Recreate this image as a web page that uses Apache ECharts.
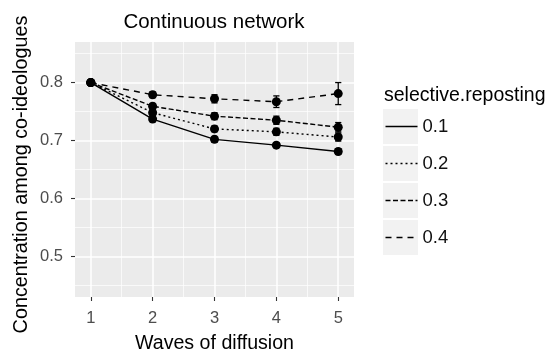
<!DOCTYPE html>
<html>
<head>
<meta charset="utf-8">
<script src="https://cdn.jsdelivr.net/npm/echarts@6/dist/echarts.min.js"></script>
<style>
  html, body { margin: 0; padding: 0; background: #fff; }
  #chart { width: 548px; height: 353px; }
</style>
</head>
<body>
<div id="chart"></div>
<script>
// waves of diffusion (x)
const waves = [1, 2, 3, 4, 5]
const groups = ['0.1', '0.2', '0.3', '0.4']

// mean concentration per selective.reposting level
const conc01 = [0.800, 0.737, 0.702, 0.692, 0.681]
const conc02 = [0.800, 0.748, 0.720, 0.715, 0.706]
const conc03 = [0.800, 0.759, 0.742, 0.735, 0.723]
const conc04 = [0.800, 0.779, 0.772, 0.767, 0.781]

// half-width of error bars
const err01 = [0.002, 0.004, 0.005, 0.004, 0.005]
const err02 = [0.002, 0.005, 0.005, 0.006, 0.007]
const err03 = [0.002, 0.005, 0.006, 0.007, 0.008]
const err04 = [0.002, 0.005, 0.007, 0.010, 0.019]

const xTicks = [1, 2, 3, 4, 5]
const xMinor = [1.5, 2.5, 3.5, 4.5]
const yTicks = [0.5, 0.6, 0.7, 0.8]
const yMinor = [0.45, 0.55, 0.65, 0.75, 0.85]

const means = [conc01, conc02, conc03, conc04]
const errs = [err01, err02, err03, err04]
const dashes = ['solid', [2, 3], [5, 2.5], [6, 5]]

const FONT = 'Liberation Sans, Arial, sans-serif'
const capWidth = 0.1

const chart = echarts.init(document.getElementById('chart'), null, { renderer: 'canvas' })

const lineSeries = groups.map((g, k) => ({
  name: g,
  type: 'line',
  symbol: 'none',
  data: waves.map((w, i) => [w, means[k][i]]),
  lineStyle: { color: '#000', width: 1.4, type: dashes[k] },
  itemStyle: { color: '#000', opacity: 0 },
  z: 3,
  silent: true,
}))

const pointData = []
const errData = []
means.forEach((arr, k) => {
  arr.forEach((v, i) => {
    pointData.push([waves[i], v])
    errData.push([waves[i], v - errs[k][i], v + errs[k][i]])
  })
})

function renderErrorBar(params, api) {
  const x = api.value(0)
  const top = api.coord([x, api.value(2)])
  const bot = api.coord([x, api.value(1)])
  const half = api.size([capWidth, 0])[0] / 2
  const style = { stroke: '#000', lineWidth: 1.3 }
  return {
    type: 'group',
    children: [
      { type: 'line', shape: { x1: top[0], y1: top[1], x2: bot[0], y2: bot[1] }, style },
      { type: 'line', shape: { x1: top[0] - half, y1: top[1], x2: top[0] + half, y2: top[1] }, style },
      { type: 'line', shape: { x1: bot[0] - half, y1: bot[1], x2: bot[0] + half, y2: bot[1] }, style },
    ],
  }
}

const option = {
  animation: false,
  backgroundColor: '#fff',
  textStyle: { fontFamily: FONT },
  title: [
    {
      text: 'Continuous network',
      left: 214,
      top: 12,
      padding: 0,
      textAlign: 'center',
      textStyle: { fontFamily: FONT, fontSize: 20.5, fontWeight: 'normal', color: '#000' },
    },
    {
      text: 'selective.reposting',
      left: 384,
      top: 86,
      padding: 0,
      textStyle: { fontFamily: FONT, fontSize: 19.5, fontWeight: 'normal', color: '#000' },
    },
  ],
  grid: {
    left: 75,
    right: 194,
    top: 42,
    bottom: 56,
    show: true,
    backgroundColor: '#EBEBEB',
    borderWidth: 0,
    containLabel: false,
    outerBoundsMode: 'none',
  },
  legend: {
    data: groups,
    orient: 'vertical',
    left: 384,
    top: 109,
    itemWidth: 32,
    itemHeight: 43.75,
    itemGap: 2,
    padding: 0,
    z: 5,
    backgroundColor: 'rgba(0,0,0,0)',
    selectedMode: false,
    itemStyle: { opacity: 0 },
    lineStyle: { width: 1.6 },
    textStyle: { fontFamily: FONT, fontSize: 18.5, color: '#111' },
  },
  graphic: groups.map((g, k) => ({
    type: 'rect',
    shape: { x: 383, y: 109 + k * 37, width: 35, height: 35 },
    style: { fill: '#F2F2F2' },
    z: 1,
    silent: true,
  })),
  xAxis: [
    {
      type: 'value',
      min: 0.745,
      max: 5.255,
      name: 'Waves of diffusion',
      nameLocation: 'middle',
      nameGap: 37,
      nameMoveOverlap: false,
      nameTextStyle: { fontFamily: FONT, fontSize: 19.6, color: '#000' },
      axisLine: { show: false },
      axisTick: { show: true, length: 4, lineStyle: { color: '#333', width: 1.1 }, customValues: xTicks },
      axisLabel: { customValues: xTicks, margin: 12.5, color: '#4D4D4D', fontSize: 16.5, fontFamily: FONT },
      splitLine: { show: true, lineStyle: { color: '#fff', width: 1.5 } },
    },
    {
      type: 'value',
      min: 0.745,
      max: 5.255,
      axisLine: { show: false },
      axisTick: { show: false, customValues: xMinor },
      axisLabel: { show: false },
      splitLine: { show: true, lineStyle: { color: '#fff', width: 0.7 } },
    },
  ],
  yAxis: [
    {
      type: 'value',
      min: 0.43,
      max: 0.87,
      name: 'Concentration among co-ideologues',
      nameLocation: 'middle',
      nameGap: 43,
      nameMoveOverlap: false,
      nameTextStyle: { fontFamily: FONT, fontSize: 19.8, color: '#000', padding: [0, 10, 0, 0] },
      axisLine: { show: false },
      axisTick: { show: true, length: 4, lineStyle: { color: '#333', width: 1.1 }, customValues: yTicks },
      axisLabel: { customValues: yTicks, margin: 12, color: '#4D4D4D', fontSize: 16.5, fontFamily: FONT,
        formatter: v => v.toFixed(1) },
      splitLine: { show: true, lineStyle: { color: '#fff', width: 1.5 } },
    },
    {
      type: 'value',
      min: 0.43,
      max: 0.87,
      axisLine: { show: false },
      axisTick: { show: false, customValues: yMinor },
      axisLabel: { show: false },
      splitLine: { show: true, lineStyle: { color: '#fff', width: 0.7 } },
    },
  ],
  series: [
    ...lineSeries,
    {
      name: 'points',
      type: 'scatter',
      data: pointData,
      symbol: 'circle',
      symbolSize: 9,
      itemStyle: { color: '#000', opacity: 1 },
      z: 5,
      silent: true,
    },
    {
      name: 'errorbars',
      type: 'custom',
      renderItem: renderErrorBar,
      data: errData,
      encode: { x: 0, y: [1, 2] },
      z: 4,
      silent: true,
    },
  ],
}

chart.setOption(option)
</script>
</body>
</html>
